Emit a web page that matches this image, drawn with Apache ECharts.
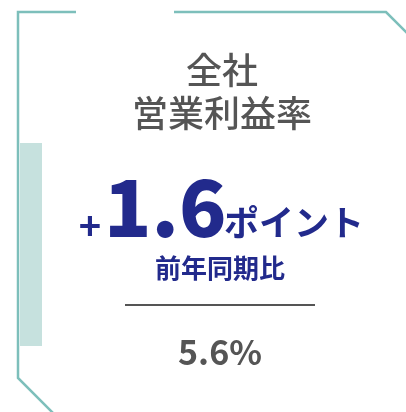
<!DOCTYPE html>
<html>
<head>
<meta charset="utf-8">
<script src="https://cdn.jsdelivr.net/npm/echarts@6/dist/echarts.min.js"></script>
<style>
  html, body { margin: 0; padding: 0; background: #fff; }
  #main { width: 406px; height: 412px; }
</style>
</head>
<body>
<div id="main"></div>
<script>
// 表示する値
var titleLines = ['全社', '営業利益率'];
var changeValue = [1.6];
var changeUnit = ['ポイント'];
var compareLabel = ['前年同期比'];
var rateValue = [5.6];

var FONT = '"Noto Sans CJK JP", "Noto Sans", sans-serif';
var TEAL = '#7dbfbb';
var NAVY = '#222a8c';
var GRAY = '#555555';

var chart = echarts.init(document.getElementById('main'));

var sign = changeValue[0] >= 0 ? '+' : '-';

var option = {
  backgroundColor: '#ffffff',
  graphic: [
    // 枠線
    { type: 'polyline', shape: { points: [[76, 12], [18, 12], [18, 378], [54, 414]] },
      style: { stroke: TEAL, lineWidth: 2.5, fill: null } },
    { type: 'polyline', shape: { points: [[174, 12], [386, 12], [408, 34]] },
      style: { stroke: TEAL, lineWidth: 2.5, fill: null } },
    { type: 'rect', shape: { x: 20, y: 143, width: 22, height: 203 },
      style: { fill: '#c6e1de' } },
    // タイトル
    { type: 'text', x: 222, y: 70,
      style: { text: titleLines[0], font: '500 36px ' + FONT, fill: GRAY, align: 'center', verticalAlign: 'middle' } },
    { type: 'text', x: 222, y: 113,
      style: { text: titleLines[1], font: '500 36px ' + FONT, fill: GRAY, align: 'center', verticalAlign: 'middle' } },
    // 前年同期比
    { type: 'text', x: 90, y: 226,
      style: { text: sign, font: 'bold 38px ' + FONT, fill: NAVY, align: 'center', verticalAlign: 'middle' } },
    { type: 'text', x: 104, y: 207,
      style: { text: changeValue[0].toFixed(1), font: '900 78px ' + FONT, fill: NAVY, align: 'left', verticalAlign: 'middle' } },
    { type: 'text', x: 224, y: 223,
      style: { text: changeUnit[0], font: 'bold 35px ' + FONT, fill: NAVY, align: 'left', verticalAlign: 'middle' } },
    { type: 'text', x: 220, y: 268,
      style: { text: compareLabel[0], font: 'bold 26px ' + FONT, fill: NAVY, align: 'center', verticalAlign: 'middle' } },
    { type: 'line', shape: { x1: 125, y1: 305, x2: 315, y2: 305 },
      style: { stroke: GRAY, lineWidth: 2 } },
    // 営業利益率
    { type: 'text', x: 220, y: 352,
      style: { text: rateValue[0].toFixed(1) + '%', font: 'bold 34px ' + FONT, fill: GRAY, align: 'center', verticalAlign: 'middle' } }
  ]
};

chart.setOption(option);
</script>
</body>
</html>
